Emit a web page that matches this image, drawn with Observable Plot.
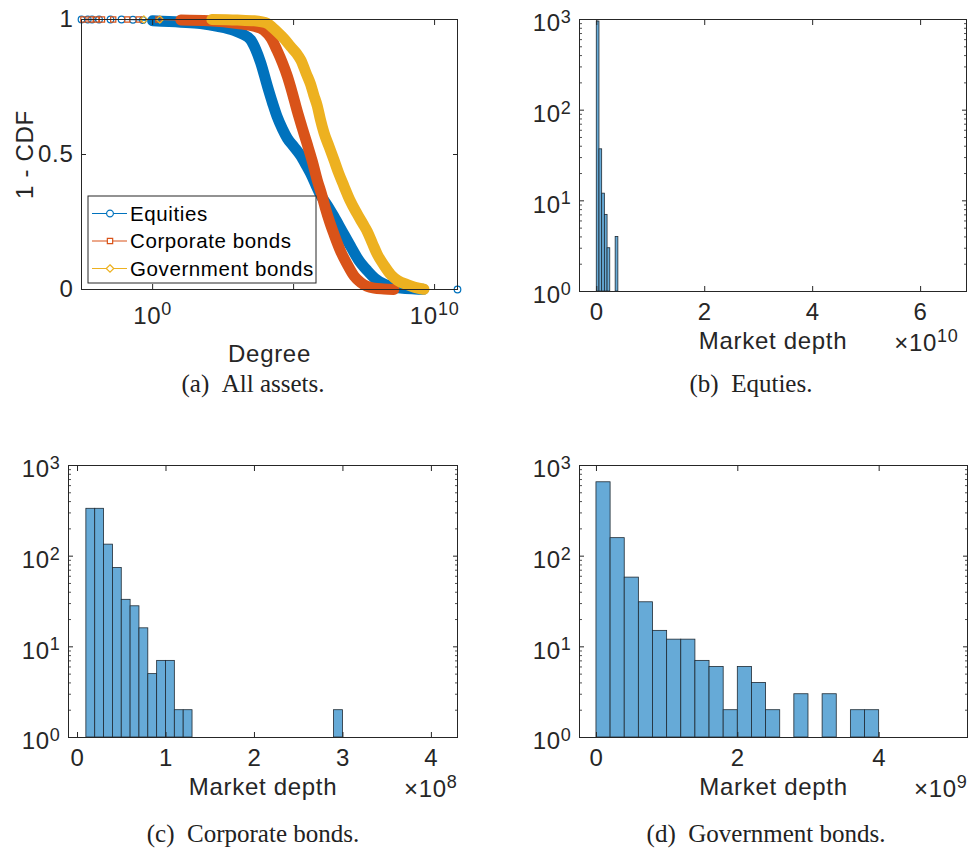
<!DOCTYPE html>
<html>
<head>
<meta charset="utf-8">
<script src="https://cdn.jsdelivr.net/npm/d3@7"></script>
<script src="https://cdn.jsdelivr.net/npm/@observablehq/plot@0.6"></script>
<style>
  body { margin: 0; background: #fff; }
  #fig { position: relative; width: 971px; height: 861px; overflow: hidden; background: #fff; }
  #fig svg text { letter-spacing: 0.7px; }
  #fig svg text.cap { letter-spacing: 0; }
</style>
</head>
<body>
<div id="fig"></div>
<script>
// ---------------- DATA ----------------
// (a) 1 - CDF of degree, three asset classes
const eqSparseDegree = [3.0e-3, 5.0e-3, 7.1e-3, 1.26e-2, 3.2e-2, 7.9e-2, 0.2, 0.45];
const eqSparseCCDF   = [1, 1, 1, 1, 1, 1, 0.999, 0.998];
const eqDenseDegree  = [1, 10, 50, 200, 760, 1.6e3, 3.0e3, 4.5e3, 6.8e3, 1.2e4, 1.8e4, 2.6e4, 4.0e4, 6.0e4, 1.0e5, 1.8e5, 2.8e5, 4.0e5, 6.3e5, 9.1e5, 1.6e6, 2.7e6, 5.0e6, 1.05e7, 2.0e7, 4.1e7, 7.9e7, 1.6e8, 3.2e8, 6.3e8, 2.0e9, 4.0e9];
const eqDenseCCDF    = [0.995, 0.99, 0.985, 0.975, 0.96, 0.945, 0.925, 0.89, 0.84, 0.75, 0.69, 0.64, 0.595, 0.56, 0.53, 0.495, 0.46, 0.43, 0.385, 0.35, 0.31, 0.27, 0.22, 0.16, 0.11, 0.07, 0.04, 0.02, 0.01, 0.005, 0.002, 0.001];
const eqTailDegree   = [6.5e10];
const eqTailCCDF     = [0];

const corpSparseDegree = [3.5e-3, 6.3e-3, 1.0e-2, 1.6e-2, 4.0e-2, 0.126, 0.32, 1.6];
const corpSparseCCDF   = [1, 1, 1, 1, 1, 1, 1, 1];
const corpDenseDegree  = [10, 100, 1.0e3, 4.0e3, 8.9e3, 1.6e4, 2.6e4, 4.0e4, 6.0e4, 8.9e4, 1.35e5, 2.0e5, 3.0e5, 4.6e5, 6.9e5, 1.0e6, 1.35e6, 1.9e6, 2.7e6, 4.5e6, 7.9e6, 1.4e7, 2.4e7, 4.0e7, 7.1e7, 1.6e8, 3.6e8];
const corpDenseCCDF    = [0.998, 0.995, 0.985, 0.975, 0.96, 0.93, 0.885, 0.84, 0.79, 0.73, 0.66, 0.6, 0.54, 0.475, 0.405, 0.35, 0.30, 0.25, 0.205, 0.145, 0.094, 0.05, 0.026, 0.012, 0.005, 0.002, 0];

const govSparseDegree = [0.49, 1.8];
const govSparseCCDF   = [1, 1];
const govDenseDegree  = [126, 1.0e3, 4.0e3, 1.2e4, 1.8e4, 2.6e4, 4.5e4, 7.8e4, 1.26e5, 1.8e5, 2.8e5, 4.0e5, 5.2e5, 6.9e5, 8.9e5, 1.2e6, 1.8e6, 2.7e6, 4.0e6, 6.0e6, 1.0e7, 1.8e7, 2.8e7, 4.1e7, 6.3e7, 9.3e7, 1.6e8, 2.8e8, 5.0e8, 1.07e9, 2.0e9, 4.2e9];
const govDenseCCDF    = [1.0, 0.998, 0.995, 0.985, 0.97, 0.955, 0.93, 0.9, 0.875, 0.85, 0.80, 0.76, 0.72, 0.68, 0.63, 0.58, 0.53, 0.48, 0.43, 0.385, 0.33, 0.28, 0.245, 0.215, 0.17, 0.13, 0.09, 0.055, 0.033, 0.018, 0.008, 0.001];

const seriesNames   = ["Equities", "Corporate bonds", "Government bonds"];
const seriesColors  = ["#0072BD", "#D95319", "#EDB120"];
const seriesSymbols = ["circle", "square2", "diamond2"];

// (b) Equities histogram: bin lower edges, counts
const eqBinWidth = 5e8;
const eqBinEdges = [0, 5e8, 1.0e9, 1.5e9, 2.0e9, 3.5e9, 6.5e10];
const eqCounts   = [950, 37, 12, 7, 3, 4, 1];

// (c) Corporate bonds histogram
const corpBinWidth = 1e7;
const corpBinEdges = [1e7, 2e7, 3e7, 4e7, 5e7, 6e7, 7e7, 8e7, 9e7, 1.0e8, 1.1e8, 1.2e8, 1.3e8, 1.6e8, 2.0e8, 2.9e8, 4.0e8];
const corpCounts   = [333, 333, 134, 74, 33, 28, 16, 5, 7, 7, 2, 2, 1, 1, 1, 2, 1];

// (d) Government bonds histogram
const govBinWidth = 2e8;
const govBinEdges = [0, 2e8, 4e8, 6e8, 8e8, 1.0e9, 1.2e9, 1.4e9, 1.6e9, 1.8e9, 2.0e9, 2.2e9, 2.4e9, 2.8e9, 3.2e9, 3.6e9, 3.8e9];
const govCounts   = [653, 158, 58, 31, 15, 12, 12, 7, 6, 2, 6, 4, 2, 3, 3, 2, 2];

// tick values
const logCountTicks = [1, 10, 100, 1000];
const logCountMinor = [2,3,4,5,6,7,8,9,20,30,40,50,60,70,80,90,200,300,400,500,600,700,800,900];
const captions = ["(a)\u2002All assets.", "(b)\u2002Equties.", "(c)\u2002Corporate bonds.", "(d)\u2002Government bonds."];

// ---------------- RENDER ----------------
const FIG = document.getElementById("fig");
const INK = "#262626";
const BAR = "#66AAD7";
const EDGE = "#1f2a33";
const baseStyle = {fontFamily: "'Liberation Sans', Arial, sans-serif", fontSize: "24px", color: INK, background: "transparent", overflow: "visible"};

function rows(xs, ys) { return xs.map((x, i) => ({x, y: ys[i]})); }

function boxAxes({xTicks, xLabelTicks, xFormat, xPad, yTicks, yLabelTicks, yFormat, yDy = 0, yMinor}) {
  const m = [Plot.frame({stroke: INK, strokeWidth: 1})];
  for (const anchor of ["bottom", "top"]) m.push(Plot.axisX(xTicks, {anchor, tickSize: -5, tickFormat: () => "", label: null}));
  for (const anchor of ["left", "right"]) {
    m.push(Plot.axisY(yTicks, {anchor, tickSize: -5, tickFormat: () => "", label: null}));
    if (yMinor) m.push(Plot.axisY(yMinor, {anchor, tickSize: -3, tickFormat: () => "", label: null, strokeOpacity: 0.8}));
  }
  m.push(Plot.axisX(xLabelTicks, {anchor: "bottom", tickSize: 0, tickPadding: xPad, tickFormat: xFormat, label: null}));
  m.push(Plot.axisY(yLabelTicks, {anchor: "left", tickSize: 0, tickPadding: 8, tickFormat: yFormat, dy: yDy, label: null}));
  return m;
}

function sup(svg) {
  d3.select(svg).selectAll("text").each(function () {
    if (this.querySelector("tspan")) return;
    const t = this.textContent;
    const m = /^(.*?)10\^(\d+)$/.exec(t);
    if (!m) return;
    const s = d3.select(this);
    s.text(null);
    s.append("tspan").text(m[1] + "10");
    s.append("tspan").attr("dy", "-0.45em").attr("font-size", "0.75em").text(m[2]);
  });
}

function place(svg, left, top) {
  svg.style.position = "absolute";
  svg.style.left = left + "px";
  svg.style.top = top + "px";
  sup(svg);
  FIG.appendChild(svg);
}

const pow10 = d => "10^" + Math.round(Math.log10(d));

// ----- Panel (a) -----
const sparse = [rows(eqSparseDegree, eqSparseCCDF), rows(corpSparseDegree, corpSparseCCDF), rows(govSparseDegree, govSparseCCDF)];
const dense  = [rows(eqDenseDegree, eqDenseCCDF), rows(corpDenseDegree, corpDenseCCDF), rows(govDenseDegree, govDenseCCDF)];
const tails  = [rows(eqTailDegree, eqTailCCDF), [], []];

const aMarks = [];
for (let s = 0; s < 3; s++) {
  const all = [...sparse[s], ...dense[s], ...tails[s]];
  aMarks.push(Plot.line(all, {x: "x", y: "y", stroke: seriesColors[s], strokeWidth: 1.2}));
  aMarks.push(Plot.line(dense[s], {x: "x", y: "y", stroke: seriesColors[s], strokeWidth: 11, strokeLinecap: "round", strokeLinejoin: "round", curve: "monotone-x"}));
  aMarks.push(Plot.dot([...sparse[s], ...tails[s]], {x: "x", y: "y", symbol: seriesSymbols[s], r: 3.3, stroke: seriesColors[s], fill: "none", strokeWidth: 1.2}));
}

const svgA = Plot.plot({
  width: 480, height: 370,
  marginTop: 19, marginRight: 23, marginBottom: 81, marginLeft: 81,
  style: baseStyle,
  x: {type: "log", domain: [3e-3, 6.5e10], axis: null},
  y: {domain: [0, 1], axis: null},
  marks: [
    ...aMarks,
    ...boxAxes({xTicks: [1, 1e5, 1e10], xLabelTicks: [1, 1e10], xFormat: pow10, xPad: 17,
                yTicks: [0, 0.5, 1], yLabelTicks: [0, 0.5, 1], yFormat: d => String(d)}),
    Plot.text(["Degree"], {text: d => d, frameAnchor: "bottom", lineAnchor: "bottom", dy: 72}),
    Plot.axisY([], {anchor: "left", tickSize: 0, label: "1 - CDF", labelAnchor: "center", labelOffset: 66, labelArrow: "none"})
  ]
});
place(svgA, 0, 0);

// ----- histogram panels -----
function histPanel({edges, counts, width, xDomain, xTicks, scale, expo, margins, w, left, top, expoDx = 0}) {
  const data = edges.map((e, i) => ({x1: e, x2: e + width, n: counts[i]}));
  const svg = Plot.plot({
    width: w, height: 370,
    ...margins,
    style: baseStyle,
    x: {domain: xDomain, axis: null},
    y: {type: "log", domain: [1, 1000], axis: null},
    marks: [
      Plot.rect(data, {x1: "x1", x2: "x2", y1: 1, y2: "n", fill: BAR, stroke: EDGE, strokeWidth: 0.8}),
      ...boxAxes({xTicks, xLabelTicks: xTicks, xFormat: d => String(Math.round(d / scale)), xPad: 11,
                  yTicks: logCountTicks, yLabelTicks: logCountTicks, yFormat: pow10, yDy: 4, yMinor: logCountMinor}),
      Plot.text(["Market depth"], {text: d => d, frameAnchor: "bottom", lineAnchor: "bottom", dy: 57}),
      Plot.text(["\u00d710^" + expo], {text: d => d, frameAnchor: "bottom-right", textAnchor: "end", lineAnchor: "bottom", dy: 59, dx: expoDx})
    ]
  });
  place(svg, left, top);
}

histPanel({edges: eqBinEdges, counts: eqCounts, width: eqBinWidth, xDomain: [-0.32e10, 6.85e10],
  xTicks: [0, 2e10, 4e10, 6e10], scale: 1e10, expo: 10, w: 481, left: 490, top: 0, expoDx: -8,
  margins: {marginTop: 19, marginRight: 5, marginBottom: 79, marginLeft: 89}});

histPanel({edges: corpBinEdges, counts: corpCounts, width: corpBinWidth, xDomain: [-0.102e8, 4.295e8],
  xTicks: [0, 1e8, 2e8, 3e8, 4e8], scale: 1e8, expo: 8, w: 480, left: 0, top: 440,
  margins: {marginTop: 25, marginRight: 23, marginBottom: 73, marginLeft: 68}});

histPanel({edges: govBinEdges, counts: govCounts, width: govBinWidth, xDomain: [-0.24e9, 5.25e9],
  xTicks: [0, 2e9, 4e9], scale: 1e9, expo: 9, w: 481, left: 490, top: 440,
  margins: {marginTop: 25, marginRight: 4, marginBottom: 73, marginLeft: 89}});

// ----- overlay: legend of (a) and captions -----
const ov = d3.create("svg").attr("width", 971).attr("height", 861)
  .style("position", "absolute").style("left", "0px").style("top", "0px");

const lg = ov.append("g");
lg.append("rect").attr("x", 88).attr("y", 196).attr("width", 228).attr("height", 87)
  .attr("fill", "#fff").attr("stroke", INK).attr("stroke-width", 1);
const symMap = {circle: d3.symbolCircle, square2: d3.symbolSquare2, diamond2: d3.symbolDiamond2};
seriesNames.forEach((name, i) => {
  const y = 213.5 + i * 27.5;
  lg.append("line").attr("x1", 92).attr("x2", 127).attr("y1", y).attr("y2", y)
    .attr("stroke", seriesColors[i]).attr("stroke-width", 1.2);
  lg.append("path").attr("transform", `translate(110,${y})`)
    .attr("d", d3.symbol(symMap[seriesSymbols[i]], 36)())
    .attr("fill", "#fff").attr("stroke", seriesColors[i]).attr("stroke-width", 1.2);
  lg.append("text").attr("x", 130).attr("y", y).attr("dy", "0.35em")
    .attr("font-family", "'Liberation Sans', Arial, sans-serif").attr("font-size", 20.5)
    .attr("fill", "#000").style("letter-spacing", "0.6px").text(name);
});

const capPos = [[253, 392], [751, 392], [253, 842], [766, 842]];
captions.forEach((c, i) => {
  ov.append("text").attr("class", "cap").attr("x", capPos[i][0]).attr("y", capPos[i][1])
    .attr("text-anchor", "middle").attr("font-family", "'Liberation Serif', 'Times New Roman', serif")
    .attr("font-size", 25).attr("fill", "#222").text(c);
});
FIG.appendChild(ov.node());
</script>
</body>
</html>
